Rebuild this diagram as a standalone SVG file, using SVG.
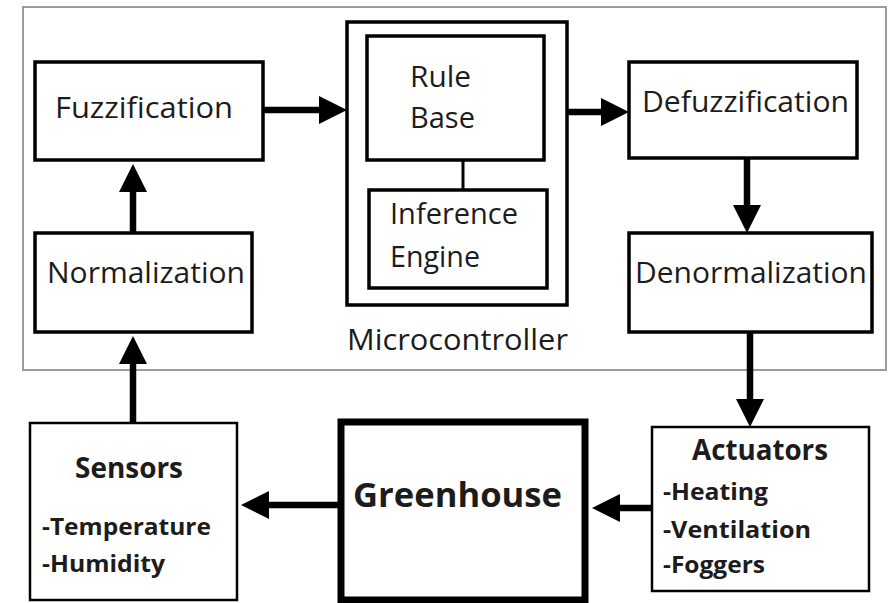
<svg xmlns="http://www.w3.org/2000/svg" width="890" height="603" viewBox="0 0 890 603">
<style>
.box{fill:#fff;stroke:#000;stroke-width:3.5}
.thin{fill:#fff;stroke:#000;stroke-width:2.5}
.t{font-family:"Open Sans","Noto Sans",sans-serif;font-size:30px;fill:#1c1c1c}
.b{font-family:"Open Sans","Noto Sans",sans-serif;font-weight:bold;fill:#1c1c1c}
.c{stroke:#000;stroke-width:6.5;fill:none}
</style>
<defs>
<marker id="ah" markerUnits="userSpaceOnUse" markerWidth="30" markerHeight="30" refX="2" refY="14" orient="auto" viewBox="0 0 30 30">
<path d="M0,0 L28,14 L0,28 z" fill="#000"/>
</marker>
</defs>
<rect width="890" height="603" fill="#fff"/>
<g id="system">
<rect x="23" y="7" width="863" height="363" fill="none" stroke="#9c9c9c" stroke-width="2"/>
</g>
<g id="microcontroller">
<rect class="box" x="347" y="22" width="220" height="283"/>
<text class="t" x="347" y="350" textLength="221" lengthAdjust="spacingAndGlyphs">Microcontroller</text>
</g>
<g id="rulebase">
<rect class="box" x="367" y="36" width="177" height="124"/>
<text class="t" x="410" y="87" textLength="61" lengthAdjust="spacingAndGlyphs">Rule</text>
<text class="t" x="410" y="128" textLength="65" lengthAdjust="spacingAndGlyphs">Base</text>
</g>
<g id="inference">
<rect class="box" x="369" y="190" width="178" height="98"/>
<text class="t" x="390" y="224" textLength="128" lengthAdjust="spacingAndGlyphs">Inference</text>
<text class="t" x="390" y="267" textLength="90" lengthAdjust="spacingAndGlyphs">Engine</text>
</g>
<g id="fuzzification">
<rect class="box" x="35" y="62" width="228" height="98"/>
<text class="t" x="55" y="118" textLength="178" lengthAdjust="spacingAndGlyphs">Fuzzification</text>
</g>
<g id="normalization">
<rect class="box" x="35" y="233" width="217" height="99"/>
<text class="t" x="47" y="283" textLength="198" lengthAdjust="spacingAndGlyphs">Normalization</text>
</g>
<g id="defuzzification">
<rect class="box" x="629" y="62" width="228" height="96"/>
<text class="t" x="642" y="112" textLength="207" lengthAdjust="spacingAndGlyphs">Defuzzification</text>
</g>
<g id="denormalization">
<rect class="box" x="629" y="233" width="243" height="99"/>
<text class="t" x="635" y="283" textLength="232" lengthAdjust="spacingAndGlyphs">Denormalization</text>
</g>
<g id="sensors">
<rect class="thin" x="30" y="423" width="207" height="177"/>
<text class="b" x="75" y="478" font-size="29" textLength="108" lengthAdjust="spacingAndGlyphs">Sensors</text>
<text class="b" x="42" y="535" font-size="24" textLength="169" lengthAdjust="spacingAndGlyphs">-Temperature</text>
<text class="b" x="42" y="572" font-size="24" textLength="123" lengthAdjust="spacingAndGlyphs">-Humidity</text>
</g>
<g id="greenhouse">
<rect x="341" y="422" width="244" height="178" fill="#fff" stroke="#000" stroke-width="7"/>
<text class="b" x="353" y="507" font-size="34" textLength="209" lengthAdjust="spacingAndGlyphs">Greenhouse</text>
</g>
<g id="actuators">
<rect class="thin" x="652" y="427" width="217" height="164"/>
<text class="b" x="692" y="460" font-size="29" textLength="136" lengthAdjust="spacingAndGlyphs">Actuators</text>
<text class="b" x="663" y="500" font-size="24" textLength="105" lengthAdjust="spacingAndGlyphs">-Heating</text>
<text class="b" x="663" y="538" font-size="24" textLength="148" lengthAdjust="spacingAndGlyphs">-Ventilation</text>
<text class="b" x="663" y="573" font-size="24" textLength="102" lengthAdjust="spacingAndGlyphs">-Foggers</text>
</g>
<g id="connectors">
<line x1="463" y1="160" x2="463" y2="190" stroke="#000" stroke-width="3"/>
<line class="c" x1="263" y1="110" x2="321" y2="110" marker-end="url(#ah)"/>
<line class="c" x1="567" y1="112" x2="603" y2="112" marker-end="url(#ah)"/>
<line class="c" x1="133" y1="233" x2="133" y2="190" marker-end="url(#ah)"/>
<line class="c" x1="133" y1="423" x2="133" y2="362" marker-end="url(#ah)"/>
<line class="c" x1="747" y1="158" x2="747" y2="207" marker-end="url(#ah)"/>
<line class="c" x1="750" y1="332" x2="750" y2="401" marker-end="url(#ah)"/>
<line class="c" x1="338" y1="505" x2="267" y2="505" marker-end="url(#ah)"/>
<line class="c" x1="652" y1="508" x2="618" y2="508" marker-end="url(#ah)"/>
</g>
</svg>
